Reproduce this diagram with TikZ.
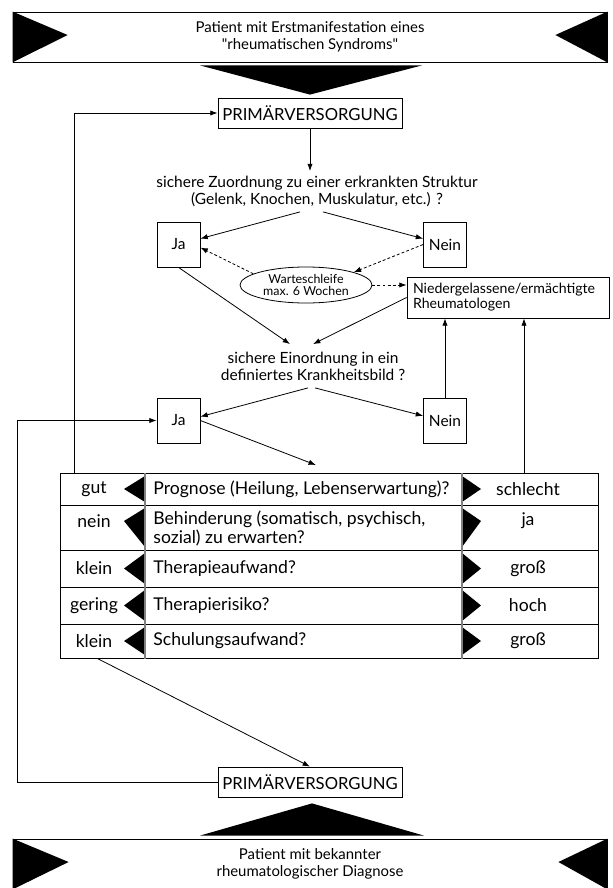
\documentclass[tikz,border=0pt]{standalone}
\usepackage{fontspec}
\setmainfont{Lato}[Ligatures=TeXOff]
\usetikzlibrary{arrows.meta,calc,shapes.geometric}

\tikzset{every picture/.style={line width=0.6pt}}
\tikzset{
  banner/.style={draw, minimum width=445.5pt, minimum height=37.5pt, inner sep=0pt, align=center, font=\fontsize{11.2}{12.75}\selectfont},
  primbox/.style={draw, minimum width=138pt, minimum height=22.5pt, inner sep=0pt, font=\fontsize{12.5}{14}\selectfont},
  ask/.style={inner sep=0pt, align=center, font=\fontsize{11.6}{12.75}\selectfont},
  yesno/.style={draw, minimum width=32.25pt, minimum height=33.75pt, inner sep=0pt, font=\fontsize{11.6}{12}\selectfont},
  waitloop/.style={draw, ellipse, minimum width=99pt, minimum height=27pt, inner sep=0pt, align=center, font=\fontsize{9.3}{9.4}\selectfont},
  specialist/.style={draw, minimum width=151.5pt, minimum height=30.75pt, inner xsep=4.5pt, inner ysep=0pt, text width=142.5pt, align=left, font=\fontsize{10.6}{11.25}\selectfont},
  cell/.style={draw, inner sep=0pt, anchor=north west},
  answer/.style={inner sep=0pt, font=\fontsize{13.2}{14}\selectfont},
  criterion/.style={inner sep=0pt, anchor=west, align=left, font=\fontsize{13.2}{10.5}\selectfont},
  greyrule/.style={draw=black!50, line width=1.6pt},
  flow/.style={-{Latex[length=5.5pt,width=4pt]}},
  waitflow/.style={flow, dash pattern=on 2.2pt off 1.6pt}
}

\begin{document}
\begin{tikzpicture}[x=0.75pt,y=0.75pt,yscale=-1,xscale=1]
\useasboundingbox (0,0) rectangle (613,888);

% Text Node
\node[banner] (top) at (310,37) {Patient mit Erstmanifestation eines\\"rheumatischen Syndroms"};
% Text Node
\node[primbox] (prim1) at (310,113) {PRIMÄRVERSORGUNG};
% Text Node
\node[ask, minimum height=30pt] (q1) at (317,191.5) {sichere Zuordnung zu einer erkrankten Struktur\\(Gelenk, Knochen, Muskulatur, etc.) ?};
% Text Node
\node[yesno] (ja1) at (178.5,244.5) {Ja};
\node[yesno] (nein1) at (445,244.5) {Nein};
% Text Node
\node[waitloop] (warte) at (306,285) {Warteschleife\\max. 6 Wochen};
% Text Node
\node[specialist] (nied) at (508,297.5) {Niedergelassene/ermächtigte\\Rheumatologen};
% Text Node
\node[ask, minimum height=32.25pt] (q2) at (313,366) {sichere Einordnung in ein\\definiertes Krankheitsbild ?};
% Text Node
\node[yesno] (ja2) at (178.5,420.5) {Ja};
\node[yesno] (nein2) at (445,420.5) {Nein};
% Text Node
\node[primbox] (prim2) at (310,782) {PRIMÄRVERSORGUNG};
% Text Node
\node[banner] (bot) at (310,864) {Patient mit bekannter\\rheumatologischer Diagnose};

%Shape: Triangle
\fill (top.north west) -- ($(top.west)+(55,-2)$) -- (top.south west) -- cycle;
\fill (top.north east) -- ($(top.east)+(-52,-2)$) -- (top.south east) -- cycle;
\fill ($(top.south)+(-110,3)$) -- ($(top.south)+(112,3)$) -- ($(prim1.north)+(0,-3)$) -- cycle;
%Shape: Triangle
\fill (bot.north west) -- ($(bot.west)+(56,-2)$) -- (bot.south west) -- cycle;
\fill (bot.north east) -- ($(bot.east)+(-49,-2)$) -- (bot.south east) -- cycle;
\fill ($(bot.north)+(-110,-3)$) -- ($(bot.north)+(114,-3)$) -- ($(prim2.south)+(2,6)$) -- cycle;

% Table
\foreach \ya/\yb/\yt/\ym/\la/\ma/\ra [count=\i] in {
  473/505/489/489/gut/{Prognose (Heilung, Lebenserwartung)?}/schlecht,
  505/550/521/528.5/nein/{Behinderung (somatisch, psychisch,\\sozial) zu erwarten?}/ja,
  550/587/568.5/568.5/klein/Therapieaufwand?/groß,
  587/624/605.5/605.5/gering/Therapierisiko?/hoch,
  624/658/641/641/klein/Schulungsaufwand?/groß}
{
  \pgfmathsetmacro\hh{(\yb-\ya)*0.75}
  \node[cell, minimum width=63.75pt, minimum height=\hh pt] (L\i) at (60,\ya) {};
  \node[cell, minimum width=237.75pt, minimum height=\hh pt] (M\i) at (145,\ya) {};
  \node[cell, minimum width=102pt, minimum height=\hh pt] (R\i) at (462,\ya) {};
  \fill (145,\ya+3) -- (124,\yt) -- (145,\yb-3) -- cycle;
  \fill (462,\ya+3) -- (481,\yt) -- (462,\yb-3) -- cycle;
  \node[answer] (l\i) at (94,\yt) {\la};
  \node[criterion] (m\i) at (153,\ym) {\ma};
  \node[answer] (r\i) at (528,\yt) {\ra};
}
\draw[greyrule] (M1.north west) -- (M5.south west);
\draw[greyrule] (R1.north west) -- (R5.south west);

%Straight Lines
\draw[flow] (prim1.south) -- (prim1.south |- q1.north);
\draw[flow] ($(q1.south)+(-17,0)$) -- (ja1.15);
\draw[flow] ($(q1.south)+(6,0)$) -- (nein1.165);
%Dashed Lines
\draw[waitflow] (warte.168) -- (ja1.-8);
\draw[waitflow] (nein1.west) -- (warte.15);
\draw[waitflow] (warte.east) -- (warte.east -| nied.west);
%Straight Lines
\draw[flow] (ja1.south) -- ($(q2.north)+(-23,0)$);
\draw[flow] (nied.west) -- (q2.north);
\draw[flow] ($(q2.south)+(-5,0)$) -- (ja2.10);
\draw[flow] ($(q2.south)+(2,0)$) -- (nein2.168);
\draw[flow] (nein2.north) -- (nein2.north |- nied.south);
\coordinate (rUp) at ($(R1.north west)+(62,0)$);
\draw[flow] (rUp) -- (rUp |- nied.south);
\draw[flow] (ja2.east) -- ($(M1.north)+(12,-8)$);
%Loop Lines
\draw[flow] ($(L1.north west)+(14,0)$) |- (prim1.west);
\draw[flow] ($(L5.south west)+(38,0)$) -- (prim2.north);
\draw[flow] (prim2.west) -- ++(-200,0) |- (ja2.west);

\end{tikzpicture}
\end{document}
